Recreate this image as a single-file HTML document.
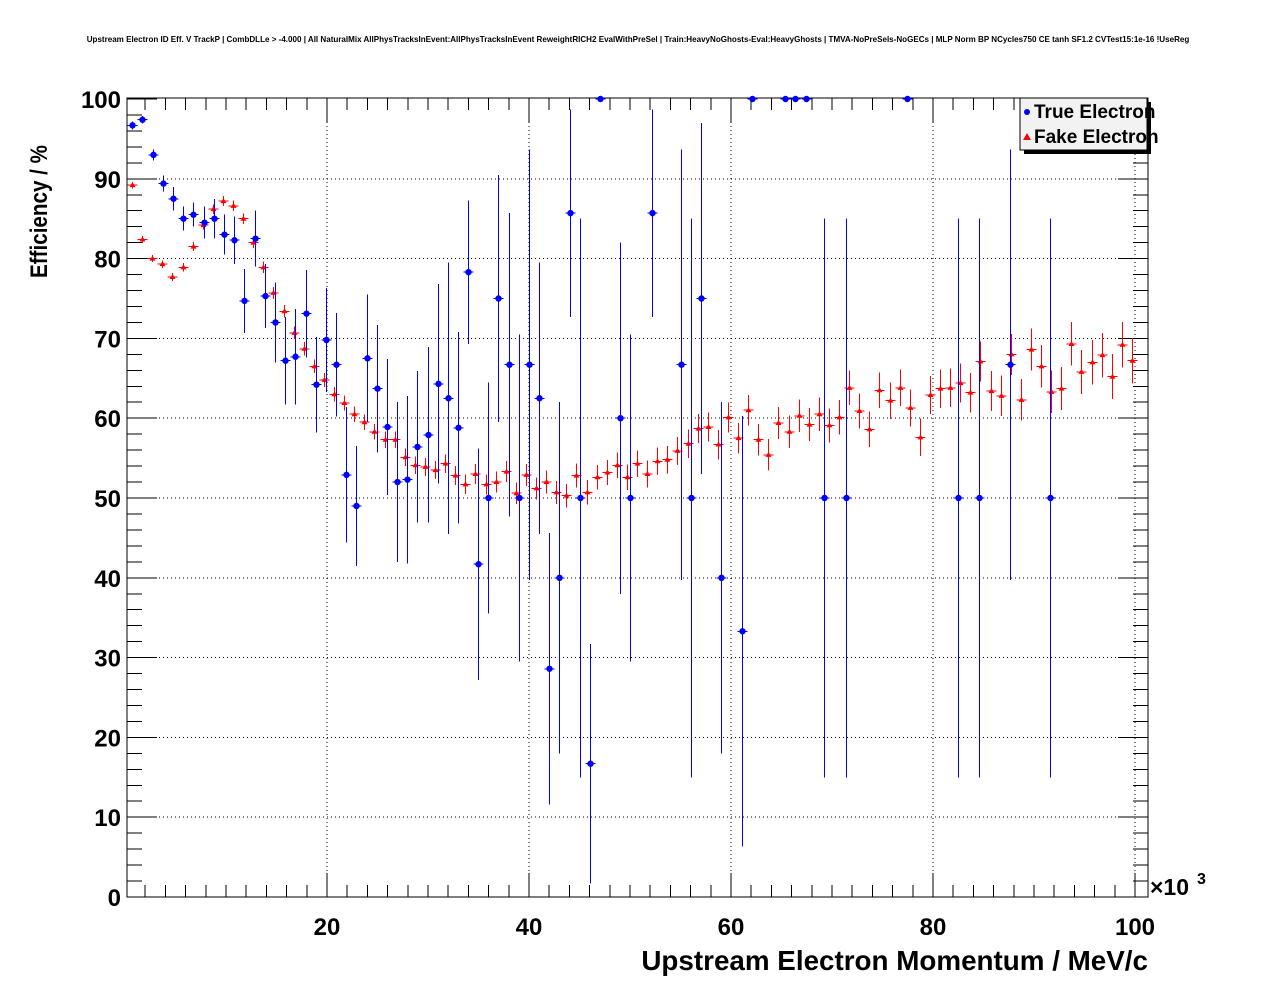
<!DOCTYPE html>
<html><head><style>body{margin:0;background:#fff}svg{display:block}text{font-family:"Liberation Sans",sans-serif;font-weight:bold}line{shape-rendering:crispEdges}</style></head>
<body>
<svg id="s" width="1276" height="996" xmlns="http://www.w3.org/2000/svg">
<rect width="1276" height="996" fill="#fff"/>
<text x="638" y="42" font-size="8.05" text-anchor="middle">Upstream Electron ID Eff. V TrackP | CombDLLe &gt; -4.000 | All NaturalMix AllPhysTracksInEvent:AllPhysTracksInEvent ReweightRICH2 EvalWithPreSel | Train:HeavyNoGhosts-Eval:HeavyGhosts | TMVA-NoPreSels-NoGECs | MLP Norm BP NCycles750 CE tanh SF1.2 CVTest15:1e-16 !UseReg</text>
<g id="g"></g>
<text x="1148" y="970" font-size="27.8" text-anchor="end">Upstream Electron Momentum / MeV/c</text>
<text transform="translate(47,278) rotate(-90)" font-size="24" textLength="133" lengthAdjust="spacingAndGlyphs">Efficiency / %</text>
<text x="1150" y="895" font-size="23">×10</text>
<text x="1197" y="884" font-size="16">3</text>
<rect x="1024" y="102" width="127" height="52" fill="#000"/>
<rect x="1020" y="98" width="127" height="52" fill="#f2f2f2" stroke="#000" stroke-width="1"/>
<circle cx="1027" cy="112" r="3" fill="#00f"/>
<polygon points="1023,140 1027,133 1031,140" fill="#f00"/>
<text x="1034" y="118" font-size="19">True Electron</text>
<text x="1034" y="143" font-size="19">Fake Electron</text>
</svg>
<script>
const g=document.getElementById('g');let h='';
const L=127,R=1148,T=98,B=897;
const X=v=>125+10.1*v, Y=v=>897-7.98*v;
for(let v=20;v<=100;v+=20)h+=`<line x1="${X(v)}" y1="${T}" x2="${X(v)}" y2="${B}" stroke="#000" stroke-dasharray="1,3" stroke-width="1"/>`;
for(let v=10;v<=90;v+=10)h+=`<line x1="${L}" y1="${Y(v)}" x2="${R}" y2="${Y(v)}" stroke="#000" stroke-dasharray="1,3" stroke-width="1"/>`;
h+=`<rect x="${L}" y="${T}" width="${R-L}" height="${B-T}" fill="none" stroke="#000"/>`;
for(let v=2;v<=100;v+=2){let l=v%20==0?24:12;h+=`<line x1="${X(v)}" y1="${B}" x2="${X(v)}" y2="${B-l}" stroke="#000"/><line x1="${X(v)}" y1="${T}" x2="${X(v)}" y2="${T+l}" stroke="#000"/>`;}
for(let v=0;v<=100;v+=2){let l=v%10==0?30:15;h+=`<line x1="${L}" y1="${Y(v)}" x2="${L+l}" y2="${Y(v)}" stroke="#000"/><line x1="${R}" y1="${Y(v)}" x2="${R-l}" y2="${Y(v)}" stroke="#000"/>`;}
for(let v=20;v<=100;v+=20)h+=`<text x="${X(v)}" y="935" font-size="24" text-anchor="middle">${v}</text>`;
for(let v=0;v<=100;v+=10)h+=`<text x="121" y="${Y(v)+9}" font-size="24" text-anchor="end">${v}</text>`;
const red=[89.2,82.4,80,79.3,77.7,78.9,81.5,84.2,86.2,87.2,86.6,85,82,78.9,75.7,73.4,70.7,68.7,66.5,64.8,63,61.9,60.5,59.5,58.3,57.3,57.3,55.1,54.1,53.9,53.5,54.3,52.8,51.7,53,51.7,52,53.3,50.6,52.9,51.2,52,50.7,50.3,52.8,50.7,52.6,53.2,54.1,52.6,54.3,53,54.6,54.8,55.9,56.8,58.7,58.9,56.7,60.1,57.5,61,57.3,55.4,59.4,58.3,60.3,59.2,60.5,59.1,60.1,63.8,60.9,58.6,63.5,62.2,63.8,61.3,57.6,62.9,63.7,63.8,64.4,63.2,67.1,63.4,62.8,68,62.3,68.6,66.5,63.3,63.7,69.3,65.8,67,67.9,65.2,69.2,67.2];
red.forEach((v,i)=>{let x=Math.round(132+10.1*i)+0.5,y=Y(v),e=(0.4+i*0.025)*7.98;
h+=`<line x1="${x}" y1="${y-e}" x2="${x}" y2="${y+e}" stroke="#f00"/><line x1="${x-5}" y1="${y}" x2="${x+5}" y2="${y}" stroke="#f00"/><polygon points="${x-3},${y+2} ${x},${y-3} ${x+3},${y+2}" fill="#f00"/>`;});
const blue=[[132,96.7,.5],[142,97.4,.5],[153,93,.7],[163,89.4,1],[173,87.5,1.5],[183,85,1.5],[193,85.5,1.5],[204,84.5,2],[214,85,2.5],[224,83,2.5],[234,82.3,3],[244,74.7,4],[255,82.5,3.5],[265,75.3,4],[275,72,5],[285,67.2,5.5],[295,67.7,6],[306,73.1,5.5],[316,64.2,6],[326,69.8,6.5],[336,66.7,6.5],[346,52.9,8.5],[356,49,7.5],[367,67.5,8],[377,63.7,8],[387,58.9,8.5],[397,52,10],[407,52.3,10.5],[417,56.4,9.5],[428,57.9,11],[438,64.3,12.5],[448,62.5,17],[458,58.8,12],[468,78.3,9],[478,41.7,14.5],[488,50,14.5],[498,75,15.5],[509,66.7,19],[519,50,20.5],[529,66.7,27],[539,62.5,17],[549,28.6,17],[559,40,22],[570,85.7,13],[580,50,35],[590,16.7,15],[600,100,0],[620,60,22],[630,50,20.5],[652,85.7,13],[681,66.7,27],[691,50,35],[701,75,22],[721,40,22],[742,33.3,27],[752,100,0],[785,100,0],[795,100,0],[806,100,0],[824,50,35],[846,50,35],[907,100,0],[958,50,35],[979,50,35],[1010,66.7,27],[1050,50,35]];
blue.forEach(([x,v,e])=>{x+=0.5;let y=Y(v),eu=Math.min(e,100-v)*7.98,ed=Math.min(e,v)*7.98;
h+=`<line x1="${x}" y1="${y-eu}" x2="${x}" y2="${y+ed}" stroke="#00f"/><line x1="${x-5}" y1="${y}" x2="${x+5}" y2="${y}" stroke="#00f"/><circle cx="${x}" cy="${y}" r="3.2" fill="#00f"/>`;});
g.innerHTML=h;
</script>
</body></html>
